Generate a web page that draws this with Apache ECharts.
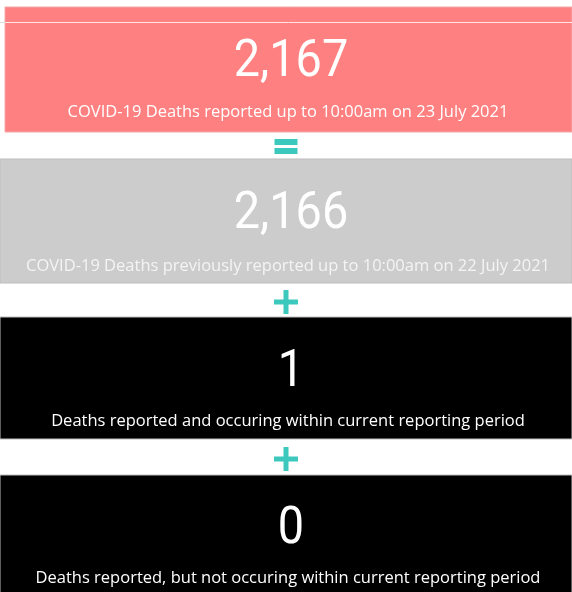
<!DOCTYPE html>
<html>
<head>
<meta charset="utf-8">
<style>
html,body{margin:0;padding:0;background:#fff;}
#chart{width:572px;height:592px;}
</style>
<script src="https://cdn.jsdelivr.net/npm/echarts@6/dist/echarts.min.js"></script>
</head>
<body>
<div id="chart"></div>
<script>
// ---- data ----
var values = [2167, 2166, 1, 0];
var labels = [
  'COVID-19 Deaths reported up to 10:00am on 23 July 2021',
  'COVID-19 Deaths previously reported up to 10:00am on 22 July 2021',
  'Deaths reported and occuring within current reporting period',
  'Deaths reported, but not occuring within current reporting period'
];
var operators = ['=', '+', '+'];

// ---- layout / style ----
var W = 572;
var cardColors = ['#FF8080', '#CCCCCC', '#000000', '#000000'];
var cardBoxes = [
  {x0: 5, y0: 7, y1: 132},
  {x0: 0, y0: 159, y1: 283},
  {x0: 0, y0: 317, y1: 439},
  {x0: 0, y0: 475, y1: 593}
];
var numberY = [63, 215, 373, 530];
var labelY = [112, 266, 421, 578];
var opY = [147, 302, 459];
var teal = '#3CC8BD';

function fmt(v) { return v.toLocaleString('en-US'); }

var chart = echarts.init(document.getElementById('chart'), null, {renderer: 'canvas'});
var g = [];

g.push({type: 'rect', shape: {x: 0, y: 0, width: W, height: 592}, style: {fill: '#ffffff'}, silent: true});

values.forEach(function (v, i) {
  var b = cardBoxes[i];
  g.push({
    type: 'rect',
    shape: {x: b.x0, y: b.y0, width: W - b.x0, height: b.y1 - b.y0},
    style: {fill: cardColors[i], stroke: i === 0 ? '#F4A8A8' : '#BDBDBD', lineWidth: 1}
  });
  g.push({
    type: 'text',
    x: 291, y: numberY[i],
    scaleX: 0.9,
    originX: 0, originY: 0,
    style: {
      text: fmt(v), fill: '#ffffff',
      font: '400 52px Roboto',
      textAlign: 'center', textVerticalAlign: 'middle'
    }
  });
  g.push({
    type: 'text',
    x: 288, y: labelY[i],
    style: {
      text: labels[i], fill: i === 1 ? '#F4F4F4' : '#ffffff',
      font: '16.5px "Open Sans"',
      textAlign: 'center', textVerticalAlign: 'middle'
    }
  });
});

// thin line across top card
g.push({type: 'line', shape: {x1: 0, y1: 22.5, x2: 5, y2: 22.5}, style: {stroke: '#DDDDDD', lineWidth: 1}});
g.push({type: 'line', shape: {x1: 5, y1: 22.5, x2: W, y2: 22.5}, style: {stroke: '#FFE6E6', lineWidth: 1}});

// operators
operators.forEach(function (op, i) {
  var cx = 286, cy = opY[i];
  if (op === '=') {
    g.push({type: 'rect', shape: {x: cx - 11.5, y: cy - 8, width: 23, height: 6}, style: {fill: teal}});
    g.push({type: 'rect', shape: {x: cx - 11.5, y: cy + 1, width: 23, height: 6}, style: {fill: teal}});
  } else {
    g.push({type: 'rect', shape: {x: cx - 12, y: cy - 2.5, width: 24, height: 5}, style: {fill: teal}});
    g.push({type: 'rect', shape: {x: cx - 2.5, y: cy - 12, width: 5, height: 24}, style: {fill: teal}});
  }
});

chart.setOption({animation: false, graphic: {elements: g}});
</script>
</body>
</html>
